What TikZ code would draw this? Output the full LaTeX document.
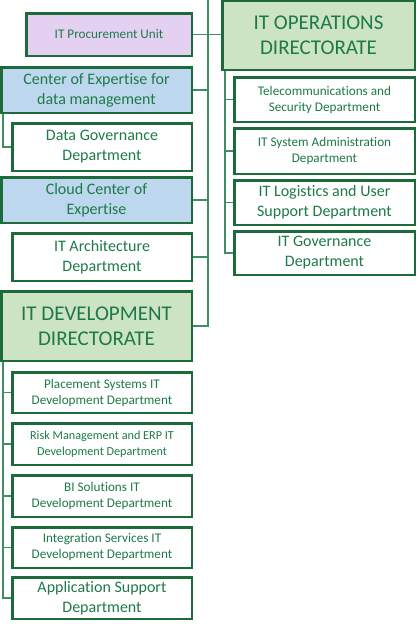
\documentclass[tikz,border=0pt]{standalone}
\usepackage{fontspec}
\setmainfont[Ligatures=NoCommon]{Carlito}
\definecolor{txt}{HTML}{1E7A48}
\definecolor{bord}{HTML}{1D6B3A}
\definecolor{conn}{HTML}{3F8F62}
\definecolor{grn}{HTML}{CCE3C4}
\definecolor{blu}{HTML}{BDD7EE}
\definecolor{pur}{HTML}{E4D1F2}
\newcommand{\fbig}{\fontsize{21}{25}\selectfont}
\newcommand{\fmed}{\fontsize{16}{20}\selectfont}
\newcommand{\fsml}{\fontsize{13.2}{16}\selectfont}
\newcommand{\fxs}{\fontsize{12.2}{15.5}\selectfont}
\tikzset{
  box/.style={draw=bord, line width=2.5pt, text=txt, align=center, inner sep=0pt},
  conline/.style={draw=conn, line width=1.3pt},
}
\newcommand{\bx}[7]{% name, x1,y1,x2,y2, style, text
  \node[box,#6,minimum width={#4-#2-2.5pt},minimum height={#5-#3-2.5pt}] (#1) at ({(#2+#4)/2},{(#3+#5)/2}) {#7};}
\begin{document}
\begin{tikzpicture}[x=1pt,y=-1pt]
\useasboundingbox (0,0) rectangle (417,625);
\clip (0,0) rectangle (417,625);
\fill[white] (0,0) rectangle (417,625);
% boxes
\bx{proc}{25}{12}{193}{57}{fill=pur,font=\fsml}{IT Procurement Unit}
\bx{ops}{221}{-1}{416}{71}{fill=grn,font=\fbig}{IT OPERATIONS\\DIRECTORATE}
\bx{coe}{0}{66}{193}{114}{fill=blu,font=\fmed}{Center of Expertise for\\data management}
\bx{dg}{11}{122}{193}{172}{fill=white,font=\fmed}{Data Governance\\Department}
\bx{cloud}{0}{176}{193}{224}{fill=blu,font=\fmed}{Cloud Center of\\Expertise}
\bx{arch}{11}{232}{193}{282}{fill=white,font=\fmed}{IT Architecture\\Department}
\bx{dev}{0}{290}{193}{362}{fill=grn,font=\fbig}{IT DEVELOPMENT\\DIRECTORATE}
\bx{plc}{11}{371}{193}{414}{fill=white,font=\fsml}{Placement Systems IT\\Development Department}
\bx{risk}{11}{422}{193}{466}{fill=white,font=\fxs}{Risk Management and ERP IT\\Development Department}
\bx{bi}{11}{474}{193}{518}{fill=white,font=\fsml}{BI Solutions IT\\Development Department}
\bx{integ}{11}{526}{193}{569}{fill=white,font=\fsml}{Integration Services IT\\Development Department}
\bx{app}{11}{576}{193}{620}{fill=white,font=\fmed}{Application Support\\Department}
\bx{tel}{233}{76}{416}{123}{fill=white,font=\fsml}{Telecommunications and\\Security Department}
\bx{sys}{233}{127}{416}{175}{fill=white,font=\fsml}{IT System Administration\\Department}
\bx{logi}{233}{179}{416}{226}{fill=white,font=\fmed}{IT Logistics and User\\Support Department}
\bx{gov}{233}{230}{416}{276}{fill=white,font=\fmed}{IT Governance\\Department}
% connectors
\coordinate (ttop) at (208,-5);
\draw[conline] (ttop) |- (dev.east);
\draw[conline] (proc.east) -- (proc.east -| ops.west);
\draw[conline] (coe.east) -- (coe.east -| ttop);
\draw[conline] (cloud.east) -- (cloud.east -| ttop);
\draw[conline] (arch.east) -- (arch.east -| ttop);
\draw[conline] ([xshift=3pt]coe.south west) |- (dg.west);
\foreach \c in {plc,risk,bi,integ,app}
  \draw[conline] ([xshift=3pt]dev.south west) |- (\c.west);
\foreach \c in {tel,sys,logi,gov}
  \draw[conline] ([xshift=4pt]ops.south west) |- (\c.west);
\end{tikzpicture}
\end{document}
